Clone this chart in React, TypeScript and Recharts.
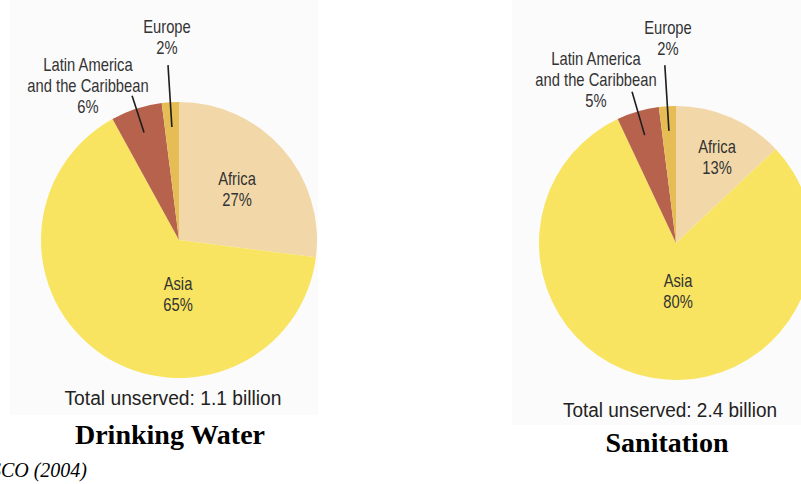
import React from "react";
import { PieChart, Pie, Cell } from "recharts";

// Regions, in clockwise order starting from 12 o'clock
const regions = ["Africa", "Asia", "Latin America and the Caribbean", "Europe"];
const regionLines = [["Africa"], ["Asia"], ["Latin America", "and the Caribbean"], ["Europe"]];

// Share of the unserved population, percent
const waterShares = [27, 65, 6, 2];
const sanitationShares = [13, 80, 5, 2];

const waterTotal = "Total unserved: 1.1 billion";
const sanitationTotal = "Total unserved: 2.4 billion";
const waterTitle = "Drinking Water";
const sanitationTitle = "Sanitation";
const sourceNote = "UNESCO (2004)";

const COLORS: Record<string, string> = {
  Africa: "#F2D8A9",
  Asia: "#F8E460",
  "Latin America and the Caribbean": "#B6624C",
  Europe: "#E6BC55",
};

const LABEL_FONT = "'Liberation Sans', Arial, sans-serif";
const SERIF = "'Liberation Serif', 'Times New Roman', serif";
const NARROW = 0.82; // horizontal squeeze for the condensed label face

type Place = { dx: number; dy: number; leader?: number };

// Label anchors relative to each pie's centre (first baseline), plus leader length (in radii)
const waterPlaces: Place[] = [
  { dx: 58, dy: -55 },
  { dx: -1, dy: 50 },
  { dx: -91, dy: -169, leader: 1.1 },
  { dx: -12, dy: -207, leader: 1.27 },
];
const sanitationPlaces: Place[] = [
  { dx: 41, dy: -90 },
  { dx: 2, dy: 44 },
  { dx: -80, dy: -178, leader: 1.15 },
  { dx: -8, dy: -209, leader: 1.3 },
];

const waterData = regions.map((name, i) => ({ name, value: waterShares[i] }));
const sanitationData = regions.map((name, i) => ({ name, value: sanitationShares[i] }));

const RAD = Math.PI / 180;

function makeLabel(places: Place[]) {
  return (props: any) => {
    const { cx, cy, midAngle, outerRadius, index, value } = props;
    const p = places[index];
    const lines = [...regionLines[index], `${value}%`];
    const x = cx + p.dx;
    const y0 = cy + p.dy;
    let leader = null;
    if (p.leader) {
      const c = Math.cos(-midAngle * RAD);
      const s = Math.sin(-midAngle * RAD);
      const r1 = outerRadius * 0.82;
      const r2 = outerRadius * p.leader;
      leader = (
        <line
          x1={cx + r1 * c}
          y1={cy + r1 * s}
          x2={cx + r2 * c}
          y2={cy + r2 * s}
          stroke="#1e1e1e"
          strokeWidth={1.6}
        />
      );
    }
    return (
      <g key={`lbl-${index}`}>
        {leader}
        <g transform={`translate(${x},${y0}) scale(${NARROW},1)`}>
          <text x={0} y={0} textAnchor="middle" fontFamily={LABEL_FONT} fontSize={18} fill="#333">
            {lines.map((ln, k) => (
              <tspan key={k} x={0} dy={k === 0 ? 0 : 21}>
                {ln}
              </tspan>
            ))}
          </text>
        </g>
      </g>
    );
  };
}

export default function App() {
  return (
    <div style={{ position: "absolute", left: 0, top: 0, width: 801, height: 484, background: "#ffffff" }}>
      <svg width={801} height={484} style={{ position: "absolute", left: 0, top: 0 }}>
        <rect x={10} y={0} width={308} height={415} fill="#fcfbfb" />
        <rect x={512} y={0} width={289} height={425} fill="#fcfbfb" />
      </svg>
      <div style={{ position: "absolute", left: 0, top: 0 }}>
        <PieChart width={801} height={484}>
          <Pie
            data={waterData}
            dataKey="value"
            nameKey="name"
            cx={174}
            cy={235}
            outerRadius={138}
            startAngle={90}
            endAngle={-270}
            stroke="none"
            labelLine={false}
            label={makeLabel(waterPlaces)}
            isAnimationActive={false}
          >
            {waterData.map((d) => (
              <Cell key={d.name} fill={COLORS[d.name]} />
            ))}
          </Pie>
          <Pie
            data={sanitationData}
            dataKey="value"
            nameKey="name"
            cx={671}
            cy={238}
            outerRadius={137}
            startAngle={90}
            endAngle={-270}
            stroke="none"
            labelLine={false}
            label={makeLabel(sanitationPlaces)}
            isAnimationActive={false}
          >
            {sanitationData.map((d) => (
              <Cell key={d.name} fill={COLORS[d.name]} />
            ))}
          </Pie>
        </PieChart>
      </div>
      <svg width={801} height={484} style={{ position: "absolute", left: 0, top: 0, pointerEvents: "none" }}>
        <text x={173} y={405} textAnchor="middle" fontFamily={LABEL_FONT} fontSize={20} fill="#222" textLength={217} lengthAdjust="spacingAndGlyphs">
          {waterTotal}
        </text>
        <text x={670} y={417} textAnchor="middle" fontFamily={LABEL_FONT} fontSize={20} fill="#222" textLength={214} lengthAdjust="spacingAndGlyphs">
          {sanitationTotal}
        </text>
        <text x={170} y={444} textAnchor="middle" fontFamily={SERIF} fontWeight="bold" fontSize={28} fill="#000">
          {waterTitle}
        </text>
        <text x={667} y={452} textAnchor="middle" fontFamily={SERIF} fontWeight="bold" fontSize={28} fill="#000">
          {sanitationTitle}
        </text>
        <text x={87} y={477} textAnchor="end" fontFamily={SERIF} fontStyle="italic" fontSize={20} fill="#000">
          {sourceNote}
        </text>
      </svg>
    </div>
  );
}
